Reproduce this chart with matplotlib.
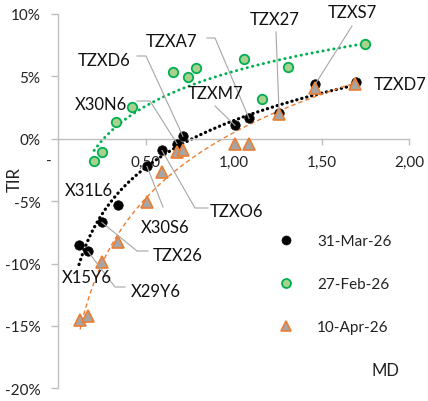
import numpy as np
import matplotlib
matplotlib.use('Agg')
import matplotlib.pyplot as plt
from matplotlib.lines import Line2D
from matplotlib.transforms import IdentityTransform

plt.rcParams['font.family'] = ['Lato', 'DejaVu Sans']

# ---------------- data ----------------
bonds = ['X15Y6', 'X29Y6', 'TZX26', 'X31L6', 'X30S6', 'TZXO6', 'X30N6',
         'TZXD6', 'TZXM7', 'TZXA7', 'TZX27', 'TZXS7', 'TZXD7']
md_mar = [0.118, 0.169, 0.249, 0.340, 0.505, 0.591, 0.676, 0.710,
          1.007, 1.087, 1.258, 1.463, 1.696]
tir_mar = [-8.55, -9.03, -6.71, -5.34, -2.21, -0.94, -0.38, 0.20,
           1.07, 1.63, 2.10, 4.35, 4.51]
md_apr = [0.124, 0.169, 0.249, 0.338, 0.505, 0.591, 0.676, 0.713,
          1.007, 1.087, 1.258, 1.463, 1.690]
tir_apr = [-14.5, -14.2, -9.85, -8.3, -5.06, -2.66, -1.06, -0.94,
           -0.38, -0.38, 2.0, 4.1, 4.4]
md_feb = [0.204, 0.249, 0.329, 0.420, 0.654, 0.739, 0.785, 1.058,
          1.161, 1.309, 1.748]
tir_feb = [-1.82, -1.10, 1.31, 2.51, 5.39, 4.99, 5.71, 6.43,
           3.15, 5.79, 7.56]
series_names = ['31-Mar-26', '27-Feb-26', '10-Apr-26']
xticks = [0.5, 1.0, 1.5, 2.0]
xtick_labels = ['0,50', '1,00', '1,50', '2,00']
yticks = [-20, -15, -10, -5, 0, 5, 10]
ytick_labels = ['-20%', '-15%', '-10%', '-5%', '0%', '5%', '10%']

# ---------------- figure ----------------
W, H = 428, 402
fig = plt.figure(figsize=(W / 100, H / 100), dpi=100)
ax = fig.add_axes([58.3 / W, (H - 389.3) / H, 351 / W, 374.3 / H])
ax.set_xlim(0, 2)
ax.set_ylim(-20, 10)

GRAY_AX = '#BFBFBF'
BLACK = '#000000'
GREEN_E = '#00B050'
GREEN_F = '#A9D18E'
ORANGE = '#ED7D31'
TRI_F = '#A5A5A5'


def log_trend(x, y):
    x = np.asarray(x); y = np.asarray(y)
    b, a = np.polyfit(np.log(x), y, 1)
    xs = np.linspace(x.min(), x.max(), 200)
    return xs, a + b * np.log(xs)


# trendlines
xs, ys = log_trend(md_mar, tir_mar)
ax.plot(xs, ys, color=BLACK, lw=2.3, ls=(0, (0.1, 1.5)),
        dash_capstyle='round', zorder=2)
xs, ys = log_trend(md_feb, tir_feb)
ax.plot(xs, ys, color=GREEN_E, lw=2.1, ls=(0, (0.1, 1.8)),
        dash_capstyle='round', zorder=2)
xs, ys = log_trend(md_apr, tir_apr)
ax.plot(xs, ys, color=ORANGE, lw=1.0, ls=(0, (3.2, 2.2)), zorder=2)

# markers
ax.plot(md_mar, tir_mar, ls='none', marker='o', ms=6.8, mfc=BLACK,
        mec=BLACK, mew=0.5, zorder=4, label=series_names[0])
ax.plot(md_feb, tir_feb, ls='none', marker='o', ms=6.8, mfc=GREEN_F,
        mec=GREEN_E, mew=1.3, zorder=4, label=series_names[1])
ax.plot(md_apr, tir_apr, ls='none', marker='^', ms=8.2, mfc=TRI_F,
        mec=ORANGE, mew=1.2, zorder=5, label=series_names[2])

# axes styling
for s in ['top', 'right']:
    ax.spines[s].set_visible(False)
ax.spines['left'].set_color(GRAY_AX)
ax.spines['bottom'].set_color(GRAY_AX)
ax.spines['bottom'].set_position(('data', 0))
ax.spines['left'].set_linewidth(1.0)
ax.spines['bottom'].set_linewidth(1.0)
ax.set_xticks(xticks)
ax.set_xticklabels(xtick_labels)
ax.set_yticks(yticks)
ax.set_yticklabels(ytick_labels)
ax.tick_params(axis='x', direction='out', length=4.5, width=1.0,
               color=GRAY_AX, pad=7, labelsize=11, labelcolor='#222222')
ax.tick_params(axis='y', direction='out', length=4.75, width=1.0,
               color=GRAY_AX, pad=8.0, labelsize=11, labelcolor='#222222')
ax.patch.set_alpha(0)

# axis titles
fig.text(15 / W, 1 - 180 / H, 'TIR', rotation=90, ha='center', va='center',
         fontsize=12, color='#222222')
fig.text(385 / W, 1 - 371 / H, 'MD', ha='center', va='center',
         fontsize=12, color='#222222')
fig.text(49 / W, 1 - 162 / H, '-', ha='center', va='center',
         fontsize=11, color='#222222')

# legend
leg = ax.legend(loc='upper left', bbox_to_anchor=(278 / W, 1 - 235 / H),
                bbox_transform=fig.transFigure, frameon=False,
                fontsize=11, handlelength=1.0, handletextpad=1.55,
                labelspacing=1.9, borderpad=0, borderaxespad=0,
                markerscale=0.95)
for t in leg.get_texts():
    t.set_color('#222222')

# data labels (text centre in image pixels, leader elbows in image pixels)
label_pos = {
    'X15Y6': (87, 278), 'X29Y6': (156, 292), 'TZX26': (178, 256),
    'X31L6': (89, 191), 'X30S6': (165, 228), 'TZXO6': (237, 212),
    'X30N6': (101, 105), 'TZXD6': (104, 61), 'TZXM7': (216, 94),
    'TZXA7': (171, 42), 'TZX27': (275, 20), 'TZXS7': (352, 13),
    'TZXD7': (400, 85),
}
leaders = {
    'X29Y6': [(115, 288), (125, 288)],
    'TZX26': [(137, 252), (148, 252)],
    'X30S6': [(163, 208)],
    'TZXO6': [(195, 209), (208, 209)],
    'X30N6': [(150, 102), (137, 102)],
    'TZXD6': [(146, 57), (137, 57)],
    'TZXA7': [(215, 39), (207, 39)],
    'TZXM7': [(215, 107)],
    'TZX27': [(276, 33)],
    'TZXS7': [(352, 27)],
}

fig.canvas.draw()
for i, name in enumerate(bonds):
    px, py = label_pos[name]
    fig.text(px / W, 1 - py / H, name, ha='center', va='center',
             fontsize=12, color='#111111')
    if name in leaders:
        p0 = ax.transData.transform((md_mar[i], tir_mar[i]))
        xs_l = [p0[0]] + [e[0] for e in leaders[name]]
        ys_l = [p0[1]] + [H - e[1] for e in leaders[name]]
        ln = Line2D(xs_l, ys_l, transform=IdentityTransform(),
                    color='#A6A6A6', lw=0.8, zorder=1)
        fig.add_artist(ln)

fig.savefig('out.png', dpi=100)
